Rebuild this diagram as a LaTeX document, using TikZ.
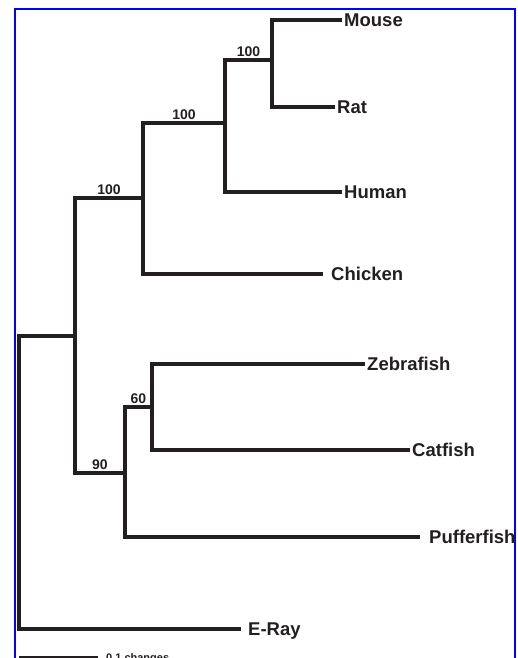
\documentclass[tikz,border=0pt]{standalone}
\usepackage{fontspec}
\setmainfont{Liberation Sans}
\usetikzlibrary{calc}
\definecolor{ink}{RGB}{35,31,32}
\definecolor{framecol}{RGB}{0,0,255}
\tikzset{
  branch/.style={draw=ink, line width=3.5pt, line join=miter},
  taxon/.style={anchor=base west, inner sep=0pt, text=ink,
    font=\bfseries\fontsize{18.5}{20}\selectfont, xshift=2pt, yshift=-6.6pt},
  boot/.style={anchor=base, inner sep=0pt, text=ink,
    font=\bfseries\fontsize{14}{16}\selectfont, yshift=3.5pt},
  scalelab/.style={anchor=base west, inner sep=0pt, text=ink,
    font=\bfseries\fontsize{11}{12}\selectfont},
}
\begin{document}
\begin{tikzpicture}[x=1pt, y=-1pt]
  \useasboundingbox (0,0) rectangle (518,658);
  \clip (0,0) rectangle (518,658);

  % frame
  \draw[framecol, line width=2pt] (15,680) -- (15,9.5) -- (515,9.5) -- (515,680);

  % leaves
  \coordinate (mouse)   at (342,20);
  \coordinate (rat)     at (335,107);
  \coordinate (human)   at (342,192);
  \coordinate (chicken) at (323,274);
  \coordinate (zebra)   at (365,364);
  \coordinate (cat)     at (410,450);
  \coordinate (puffer)  at (420,537);
  \coordinate (eray)    at (241,629);

  % internal nodes
  \coordinate (n1)   at (272,60);
  \coordinate (n2)   at (225,123);
  \coordinate (n3)   at (143,198);
  \coordinate (n4)   at (152,407);
  \coordinate (n5)   at (125,473);
  \coordinate (n6)   at (75,336);
  \coordinate (root) at (19,480);

  % branches
  \draw[branch] (n1) |- (mouse);
  \draw[branch] (n1) |- (rat);
  \draw[branch] (n2) |- (n1);
  \draw[branch] (n2) |- (human);
  \draw[branch] (n3) |- (n2);
  \draw[branch] (n3) |- (chicken);
  \draw[branch] (n6) |- (n3);
  \draw[branch] (n6) |- (n5);
  \draw[branch] (n5) |- (n4);
  \draw[branch] (n5) |- (puffer);
  \draw[branch] (n4) |- (zebra);
  \draw[branch] (n4) |- (cat);
  \draw[branch] (root) |- (n6);
  \draw[branch] (root) |- (eray);

  % taxon names
  \node[taxon] (lmouse)   at (mouse)   {Mouse};
  \node[taxon] (lrat)     at (rat)     {Rat};
  \node[taxon] (lhuman)   at (human)   {Human};
  \node[taxon, xshift=6pt] (lchicken) at (chicken) {Chicken};
  \node[taxon] (lzebra)   at (zebra)   {Zebrafish};
  \node[taxon] (lcat)     at (cat)     {Catfish};
  \node[taxon, xshift=7pt] (lpuffer)  at (puffer)  {Pufferfish};
  \node[taxon, xshift=5pt] (leray)    at (eray)    {E-Ray};

  % bootstrap support
  \node[boot] (b1) at ($(n2 |- n1)!0.5!(n1)$) {100};
  \node[boot] (b2) at ($(n3 |- n2)!0.5!(n2)$) {100};
  \node[boot] (b3) at ($(n6 |- n3)!0.5!(n3)$) {100};
  \node[boot] (b4) at ($(n5 |- n4)!0.5!(n4)$) {60};
  \node[boot] (b5) at ($(n6 |- n5)!0.5!(n5)$) {90};

  % scale bar
  \coordinate (sb1) at (19,657.5);
  \coordinate (sb2) at (98,657.5);
  \draw[branch] (sb1) -- (sb2);
  \node[scalelab] (sblab) at (106,661) {0.1 changes};
\end{tikzpicture}
\end{document}
